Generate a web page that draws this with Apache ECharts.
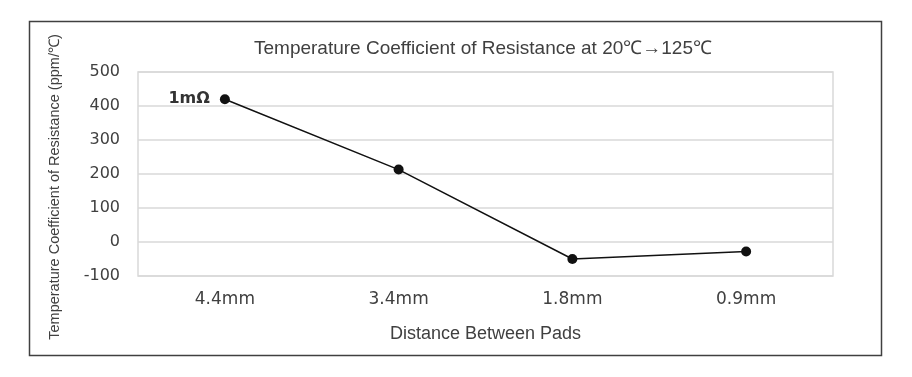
<!DOCTYPE html>
<html>
<head>
<meta charset="utf-8">
<script src="https://cdn.jsdelivr.net/npm/echarts@6/dist/echarts.min.js"></script>
<style>
  html, body { margin: 0; padding: 0; background: #fff; }
  #chart { width: 912px; height: 377px; }
</style>
</head>
<body>
<div id="chart"></div>
<script>
// 数据
const categories = ['4.4mm', '3.4mm', '1.8mm', '0.9mm'];
const tcrValues = [420, 213, -50, -28];
const pointLabels = ['1mΩ', '', '', ''];

const chart = echarts.init(document.getElementById('chart'), null, { renderer: 'canvas' });

const option = {
  backgroundColor: '#ffffff',
  animation: false,
  title: {
    text: 'Temperature Coefficient of Resistance at 20℃→125℃',
    left: 478, top: 34, textAlign: 'center',
    textStyle: { fontFamily: 'Liberation Sans', fontWeight: 'normal', fontSize: 19, color: '#404040' }
  },
  // 外框
  graphic: [{
    type: 'rect',
    shape: { x: 29.5, y: 21.5, width: 852, height: 334 },
    style: { fill: 'none', stroke: '#404040', lineWidth: 1.5 },
    silent: true
  }],
  grid: {
    left: 138, right: 79, top: 72, bottom: 101,
    show: true, borderColor: '#d9d9d9', borderWidth: 1.5, backgroundColor: 'transparent'
  },
  xAxis: {
    type: 'category',
    data: categories,
    boundaryGap: true,
    axisLine: { show: false },
    axisTick: { show: false },
    axisLabel: { fontFamily: 'DejaVu Sans', fontSize: 17, color: '#404040', margin: 15 },
    name: 'Distance Between Pads',
    nameLocation: 'middle',
    nameGap: 49,
    nameTextStyle: { fontFamily: 'Liberation Sans', fontSize: 18, color: '#404040' }
  },
  yAxis: {
    type: 'value',
    min: -100, max: 500, interval: 100,
    axisLine: { show: false },
    axisTick: { show: false },
    splitLine: { lineStyle: { color: '#d9d9d9', width: 1.5 } },
    axisLabel: { fontFamily: 'DejaVu Sans', fontSize: 16, color: '#404040', margin: 18 },
    name: 'Temperature Coefficient of Resistance (ppm/℃)',
    nameLocation: 'middle',
    nameRotate: 90,
    nameGap: 76,
    nameTextStyle: { fontFamily: 'Liberation Sans', fontSize: 14.5, color: '#404040', padding: [0, 26, 0, 0] }
  },
  series: [{
    type: 'line',
    data: tcrValues,
    symbol: 'circle',
    symbolSize: 10,
    lineStyle: { color: '#111', width: 1.5 },
    itemStyle: { color: '#111' },
    label: {
      show: true,
      position: 'left',
      distance: 10,
      formatter: p => pointLabels[p.dataIndex],
      fontFamily: 'DejaVu Sans', fontWeight: 'bold', fontSize: 16, color: '#333'
    }
  }]
};

chart.setOption(option);
</script>
</body>
</html>
